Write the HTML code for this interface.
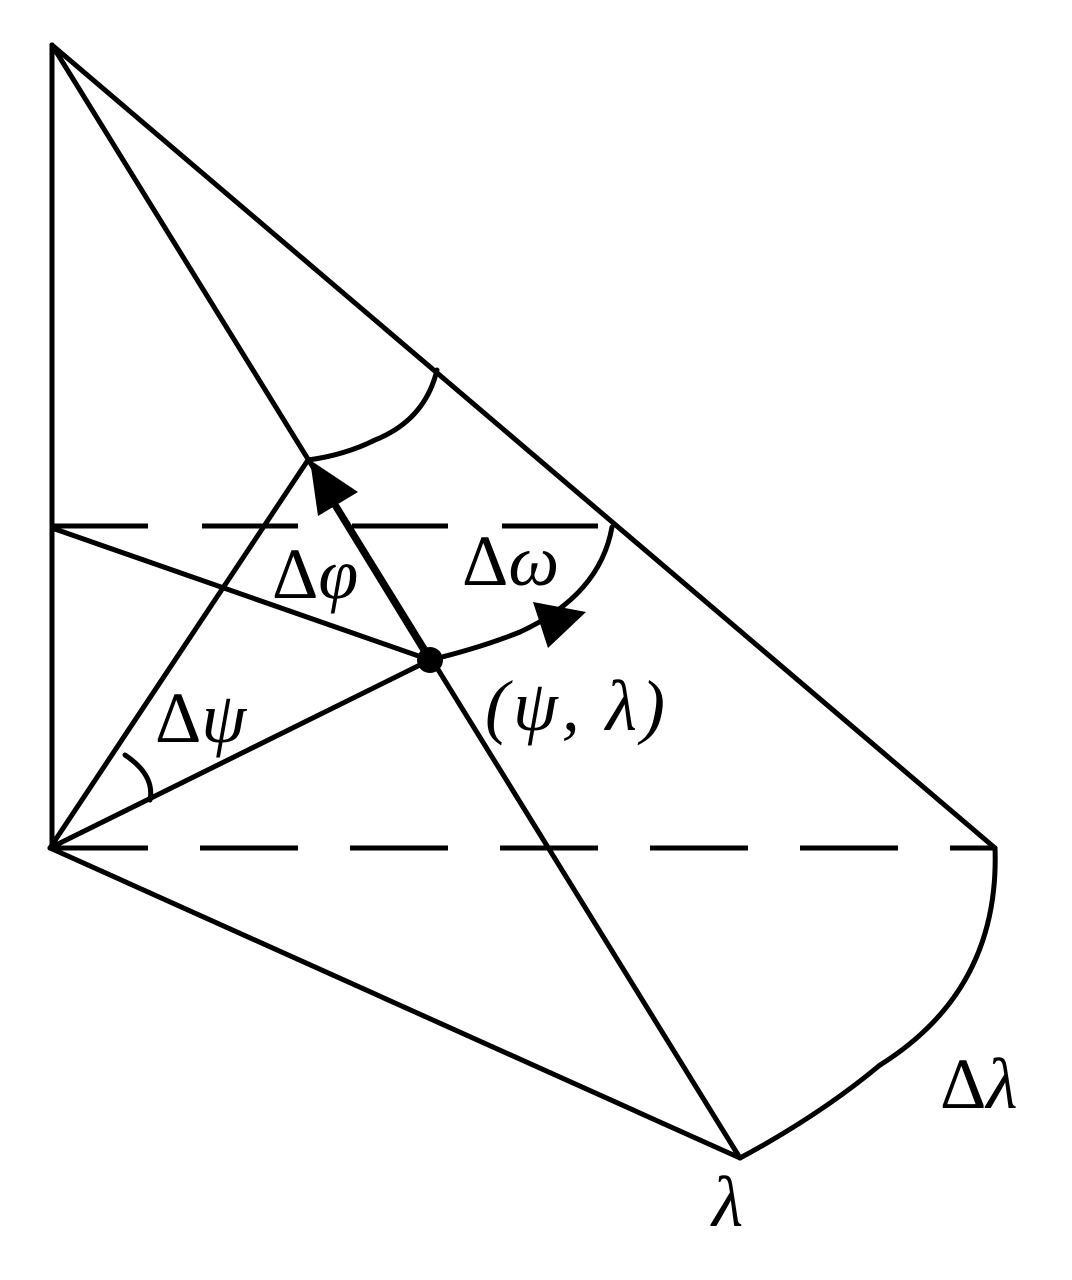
<!DOCTYPE html>
<html><head><meta charset="utf-8"><style>
html,body{margin:0;padding:0;background:#fff;}
svg{display:block;}
text{font-family:"Liberation Serif","DejaVu Serif",serif;font-style:italic;font-size:72px;fill:#000;}
</style></head><body>
<svg width="1072" height="1280" viewBox="0 0 1072 1280" xmlns="http://www.w3.org/2000/svg">
<g stroke="#000" stroke-width="5" fill="none" stroke-linecap="round">
<line x1="52" y1="45" x2="52" y2="848"/>
<line x1="52" y1="45" x2="995" y2="848"/>
<line x1="52" y1="45" x2="740" y2="1158"/>
<line x1="50" y1="848" x2="740" y2="1158"/>
<line x1="52" y1="528" x2="430" y2="660"/>
<line x1="50" y1="848" x2="430" y2="660"/>
<line x1="50" y1="848" x2="308" y2="460"/>
<line x1="50" y1="848" x2="995" y2="848" stroke-dasharray="98 52" stroke-linecap="butt"/>
<line x1="52" y1="526" x2="610" y2="526" stroke-dasharray="96 54" stroke-linecap="butt"/>
<path d="M308 460 Q345 455 375 440 Q425 420 437 370"/>
<path d="M430 660 Q480 648 520 632 Q600 595 612 527"/>
<path d="M995 848 Q1000 990 880 1065 Q820 1115 740 1158"/>
<path d="M125 755 Q155 775 150 800"/>
<line x1="430" y1="660" x2="335" y2="505" stroke-width="7"/>
</g>
<polygon points="310,460 358,492 318,516" fill="#000"/>
<polygon points="586,612 533,602 548,648" fill="#000"/>
<circle cx="430" cy="660" r="13" fill="#000"/>
<text x="272" y="598" style="font-style:normal">Δ<tspan font-style="italic">φ</tspan></text>
<text x="462" y="585" style="font-style:normal">Δ<tspan font-style="italic">ω</tspan></text>
<text x="485" y="730" textLength="180">(ψ, λ)</text>
<text x="155" y="742" style="font-style:normal">Δ<tspan font-style="italic">ψ</tspan></text>
<text x="940" y="1108" style="font-style:normal">Δ<tspan font-style="italic">λ</tspan></text>
<text x="712" y="1226">λ</text>
</svg>
</body></html>
